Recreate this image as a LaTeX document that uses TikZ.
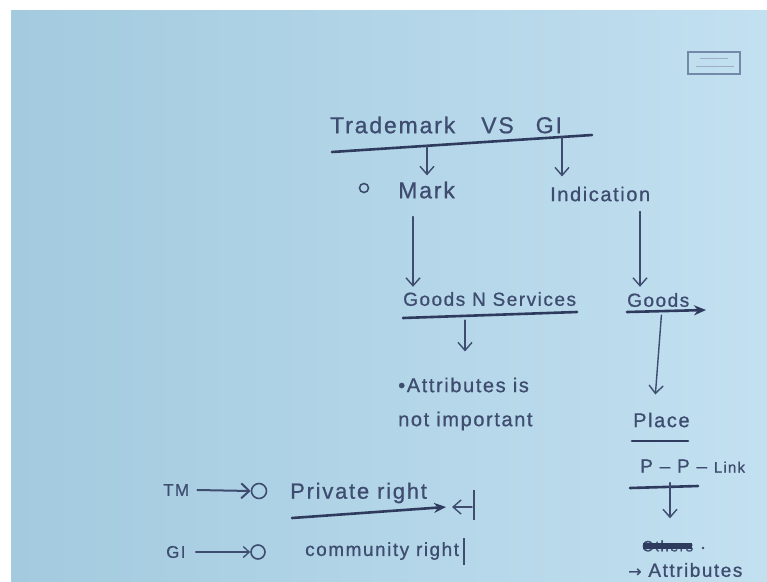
\documentclass[tikz,border=0pt]{standalone}
\usepackage{fontspec}
\setmainfont{Liberation Sans}
\newfontfamily\hand[LetterSpace=8,FakeBold=0.8]{Liberation Sans}
\newfontfamily\symf[FakeBold=0.8]{DejaVu Sans}
\usetikzlibrary{arrows.meta}
\definecolor{ink}{HTML}{3E4C70}
\definecolor{inkdark}{HTML}{2F3B5E}
\definecolor{paperA}{HTML}{A3CADF}
\definecolor{paperB}{HTML}{C2E0F0}
\definecolor{boxink}{HTML}{7489AA}
\newcommand{\hs}[1]{\hand\fontsize{#1}{#1}\selectfont}
\begin{document}
\begin{tikzpicture}[x=1pt,y=-1pt,
  hw/.style={text=ink, inner sep=0pt, anchor=west},
  ar/.style={draw=ink, line width=1.4pt, line cap=round, -{Straight Barb[length=8pt,width=14pt]}},
  ul/.style={draw=inkdark, line width=2.6pt, line cap=round},
  ularrow/.style={ul, -{Stealth[length=12pt,width=10pt]}},
  ring/.style={circle, draw=ink, line width=1.6pt, inner sep=0pt, minimum size=#1},
]
\useasboundingbox (0,0) rectangle (767,581);
\fill[white] (0,0) rectangle (767,581);
\shade[left color=paperA, right color=paperB] (11,10) rectangle (767,581);

% date box
\draw[boxink, line width=1.2pt] (688,52) rectangle (740,74);
\draw[boxink!70, line width=1pt] (700,58) -- (728,58) (696,66) -- (734,66);

% title
\node[hw, font=\hs{23}] (title) at (330,125) {Trademark\hspace{26pt}VS\hspace{22pt}GI};
\coordinate (ulL) at (332,152);
\coordinate (ulR) at (592,135);
\draw[ul] (ulL) -- (ulR);
\coordinate (t1) at (427,146);
\coordinate (t2) at (562,137);

% second row
\node[ring=9pt] (o1) at (364,188) {};
\node[hw, font=\hs{23}] (mark) at (398,190) {Mark};
\node[hw, font=\hs{20}] (ind) at (550,194) {Indication};
\draw[ar, shorten >=6pt] (t1) -- (t1 |- mark.north);
\draw[ar, shorten >=10pt] (t2) -- (t2 |- ind.north);

% third row
\node[hw, font=\hs{19}] (gs) at (403,299) {Goods N Services};
\node[hw, font=\hs{19}] (goods) at (627,300) {Goods};
\draw[ar, shorten <=18pt, shorten >=5pt] (mark.south -| 413,0) -- (gs.north -| 413,0);
\draw[ar, shorten <=10pt, shorten >=6pt] (ind.south -| 640,0) -- (goods.north -| 640,0);
\draw[ul] (403,318) -- (577,312);
\draw[ularrow] (627,312) -- (706,310);

% attributes
\node[hw, font=\hs{20}] (attr) at (398,385) {\textbullet Attributes is};
\node[hw, font=\hs{20}] (notimp) at (398,421) {not important};
\draw[ar, shorten <=14pt, shorten >=26pt] (gs.south -| 465,0) -- (attr.north -| 465,0);

% right column
\node[hw, font=\hs{20}] (place) at (633,420) {Place};
\draw[ar, shorten <=8pt, shorten >=18pt] (goods.south -| 662,0) -- (place.north -| 654,0);
\draw[ul] (632,441) -- (688,441);
\node[hw, font=\hs{19}] (ppl) at (640,466) {P – P – {\hs{15}Link}};
\draw[ul] (630,488) -- (698,486);
\node[hw, font=\hs{15}] (others) at (642,546) {Others};
\draw[inkdark, line width=6pt] ([xshift=1pt]others.west) -- ([xshift=-1pt]others.east);
\fill[ink] (703,548) circle (1.4pt);
\draw[ar, shorten <=10pt, shorten >=22pt] (ppl.south -| 670,0) -- (others.north -| 670,0);
\node[hw, font=\hs{19}] (attr2) at (628,570) {{\symf\fontsize{16}{16}\selectfont →} Attributes};

% bottom left
\node[hw, font=\hs{17}] (tm) at (163,490) {TM};
\node[ring=15pt] (o3) at (259,491) {};
\draw[ar, line width=2pt, -{Straight Barb[length=8pt,width=15pt]}] (tm.east) ++(8,0) -- (o3.west);
\node[hw, font=\hs{22}] (priv) at (290,493) {Private right};
\draw[ularrow] (292,518) -- (446,507);
\draw[ar] (472,507) -- (452,507);
\draw[ink, line width=1.6pt] (474,490) -- (474,520);

\node[hw, font=\hs{17}] (gi) at (166,552) {GI};
\node[ring=14pt] (o4) at (258,552) {};
\draw[ar, line width=1.3pt, -{Straight Barb[length=6pt,width=11pt]}] (gi.east) ++(10,0) -- (o4.west);
\node[hw, font=\hs{19}] (comm) at (305,551) {community right};
\draw[ink, line width=1.6pt] ([xshift=5pt]comm.east) ++(0,-13) -- ++(0,27);
\end{tikzpicture}
\end{document}
